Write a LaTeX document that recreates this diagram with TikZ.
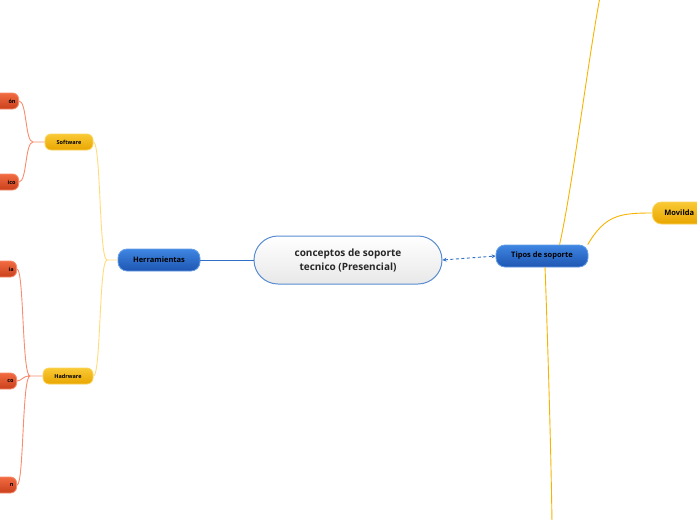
\documentclass[tikz,border=0pt]{standalone}
\usepackage{fontspec}
\setmainfont{Open Sans}
\usepackage{tikz}
\usetikzlibrary{arrows.meta}

\definecolor{bluedark}{HTML}{1D56B2}
\definecolor{bluelight}{HTML}{3F86E2}
\definecolor{blueline}{HTML}{2F6FC6}
\definecolor{yeldark}{HTML}{E9A600}
\definecolor{yellight}{HTML}{F9C935}
\definecolor{yelline}{HTML}{FFDB7A}
\definecolor{orline}{HTML}{F6B300}
\definecolor{reddark}{HTML}{C9401B}
\definecolor{redlight}{HTML}{F16B42}
\definecolor{redline}{HTML}{F88C6C}

\begin{document}
\begin{tikzpicture}
          [x=1pt,y=-1pt,line width=0.9pt]
          \tikzstyle{every node}=[text=black,inner xsep=3pt,inner ysep=0pt]
          \tikzstyle{centerbox}=[rectangle,rounded corners=24pt,minimum width=188pt,minimum height=48pt,
            top color=white,bottom color=black!9,draw=blueline!80,line width=1pt,align=center,
            text=black!85,font=\fontsize{10}{14}\selectfont\bfseries]
          \tikzstyle{bluebox}=[rectangle,rounded corners=9pt,minimum height=22pt,line width=0.8pt,
            top color=bluelight,bottom color=bluedark,draw=bluelight!80,font=\fontsize{7.5}{8}\selectfont\bfseries]
          \tikzstyle{yelbox}=[rectangle,rounded corners=6pt,minimum height=16pt,line width=0.8pt,
            top color=yellight,bottom color=yeldark,draw=yellight!80,font=\fontsize{5.5}{6}\selectfont\bfseries]
          \tikzstyle{redbox}=[rectangle,rounded corners=6pt,minimum height=16pt,text width=40pt,align=right,line width=0.8pt,
            top color=redlight,bottom color=reddark,draw=redline,font=\fontsize{5.5}{6}\selectfont\bfseries]

          \useasboundingbox (0,0) rectangle (697,520);
          \begin{scope}
          \clip (0,0) rectangle (697,520);

          \node[centerbox] (cpt) at (348,260) {conceptos de soporte\\tecnico (Presencial)};
          \node[bluebox,minimum width=82pt] (herr) at (159,260) {Herramientas};
          \node[bluebox,minimum width=92pt] (tipos) at (542,256) {Tipos de soporte};
          \node[yelbox,minimum width=48pt] (soft) at (69,142) {Software};
          \node[yelbox,minimum width=50pt] (hard) at (68,376) {Hadrware};
          \node[bluebox,top color=yellight,bottom color=yeldark,draw=yellight!80,
            anchor=west,text width=60pt,inner xsep=12pt,font=\fontsize{7.5}{8}\selectfont\bfseries] (movil) at (652,213) {Movilda};

          % cut off at the left edge
          \node[redbox,anchor=east] (r1) at (19,101) {ón};
          \node[redbox,anchor=east] (r2) at (19,182) {ico};
          \node[redbox,anchor=east] (r3) at (17,269) {ía};
          \node[redbox,anchor=east] (r4) at (17,381) {co};
          \node[redbox,anchor=east] (r5) at (17,485) {n};

          \coordinate (hj) at (107,260);
          \coordinate (sj) at (33,142);
          \coordinate (dj) at (30,376);
          \coordinate (topend) at (600,-3);
          \coordinate (botend) at (552,523);

          \draw[blueline] (herr.east) -- (cpt.west);
          \draw[blueline,dash pattern=on 3pt off 2.5pt,{Stealth[length=4pt,width=4pt]}-{Stealth[length=4pt,width=4pt]}] (cpt.east) -- (tipos.west);

          \draw[yelline] (herr.west) -- (hj)
            (hj) .. controls (99,260) and (101,142) .. (soft.east)
            (hj) .. controls (99,260) and (101,376) .. (hard.east);

          \draw[redline] (soft.west) -- (sj)
            (sj) .. controls (25,142) and (27,101) .. (r1.east)
            (sj) .. controls (25,142) and (27,182) .. (r2.east);
          \draw[redline] (hard.west) -- (dj)
            (dj) .. controls (22,376) and (24,269) .. (r3.east)
            (dj) .. controls (22,376) and (22,381) .. (r4.east)
            (dj) .. controls (22,376) and (24,485) .. (r5.east);

          \draw[orline] (tipos.33) .. controls (572,190) and (588,60) .. (topend);
          \draw[orline] (tipos.14) .. controls (605,215) and (620,213) .. (movil.west);
          \draw[orline] (tipos.-75) .. controls (548,350) and (551,450) .. (botend);
          \end{scope}
        \end{tikzpicture}
\end{document}
